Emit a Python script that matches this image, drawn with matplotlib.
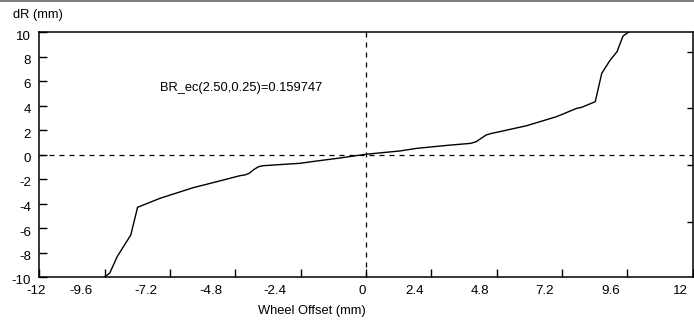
import matplotlib
matplotlib.use("Agg")
import matplotlib.pyplot as plt
from matplotlib.transforms import ScaledTranslation
from matplotlib.patches import Rectangle

plt.rcParams['font.family'] = ['Liberation Sans', 'DejaVu Sans']

# ---- data ----
wheel_offset = [-9.60, -9.41, -9.14, -8.64, -8.39, -7.57, -6.35, -5.48, -4.63, -4.45,
                -4.30, -4.10, -3.95, -3.80, -3.41, -2.43, -1.81, -1.00, 0.00, 1.25,
                1.86, 3.00, 3.85, 4.05, 4.25, 4.41, 4.60, 4.80, 5.90, 7.00,
                7.74, 7.92, 8.42, 8.66, 8.97, 9.22, 9.44, 9.65]
dR = [-10.00, -9.67, -8.34, -6.57, -4.31, -3.58, -2.71, -2.22, -1.73, -1.67,
      -1.55, -1.20, -1.00, -0.92, -0.86, -0.72, -0.53, -0.30, 0.02, 0.29,
      0.50, 0.75, 0.91, 1.05, 1.35, 1.59, 1.72, 1.81, 2.35, 3.09,
      3.77, 3.85, 4.31, 6.63, 7.71, 8.39, 9.67, 10.00]
x_ticks = [-12, -9.6, -7.2, -4.8, -2.4, 0, 2.4, 4.8, 7.2, 9.6, 12]
x_tick_labels = ["-12", "-9.6", "-7.2", "-4.8", "-2.4", "0", "2.4", "4.8", "7.2", "9.6", "12"]
y_ticks = [10, 8, 6, 4, 2, 0, -2, -4, -6, -8, -10]
y_tick_labels = ["10", "8", "6", "4", "2", "0", "-2", "-4", "-6", "-8", "-10"]
annotation = "BR_ec(2.50,0.25)=0.159747"

# ---- layout (pixels) ----
W, H = 694, 324
DPI = 100
fig = plt.figure(figsize=(W / DPI, H / DPI), dpi=DPI)
ax_l, ax_r, ax_t, ax_b = 39.3, 692.7, 32, 277
ax = fig.add_axes([ax_l / W, (H - ax_b) / H, (ax_r - ax_l) / W, (ax_b - ax_t) / H])

ax.plot(wheel_offset, dR, color='black', lw=1.0, solid_joinstyle='round', clip_on=True)
ax.axhline(0, color='black', lw=0.9, ls=(0, (4, 4)))
ax.axvline(0, color='black', lw=0.9, ls=(0, (4, 4)))

ax.set_xlim(-12, 12)
ax.set_ylim(-10, 10)
ax.set_xticks(x_ticks)
ax.set_xticklabels(x_tick_labels)
ax.set_yticks(y_ticks)
ax.set_yticklabels(y_tick_labels)
ax.tick_params(axis='both', direction='in', length=6, width=1, labelsize=9.6, color='black')
ax.tick_params(axis='x', pad=6)
ax.tick_params(axis='y', pad=6)
for s in ax.spines.values():
    s.set_linewidth(1.1)

# per-label horizontal shifts (pixels) to mimic the original label placement
x_label_shift_px = [-3.3, -23.2, -24, -24.3, -25.7, -4, -16.3, -16.7, -17, -16.3, -12.7]
for lab, dx in zip(ax.get_xticklabels(), x_label_shift_px):
    lab.set_transform(lab.get_transform() + ScaledTranslation(dx / DPI, 0, fig.dpi_scale_trans))
for lab in ax.get_yticklabels():
    lab.set_transform(lab.get_transform() + ScaledTranslation(0, -3 / DPI, fig.dpi_scale_trans))

# right-side small ticks
ax2 = ax.twinx()
ax2.set_ylim(-10, 10)
ax2.set_yticks([8.37, 3.80, -0.86, -5.47])
ax2.set_yticklabels([])
ax2.tick_params(axis='y', direction='in', length=4, width=1, color='black')
for s in ax2.spines.values():
    s.set_visible(False)

ax.text(-7.57, 5.43, annotation, fontsize=9.3, ha='left', va='center')

fig.text(13 / W, 1 - 15 / H, "dR (mm)", fontsize=9.3, ha='left', va='center')
fig.text(312 / W, 1 - 311 / H, "Wheel Offset (mm)", fontsize=9.3, ha='center', va='center')

fig.add_artist(Rectangle((0, 1 - 2 / H), 1, 2 / H, transform=fig.transFigure,
                         color='#808080', lw=0))

fig.savefig("out.png", dpi=DPI)
